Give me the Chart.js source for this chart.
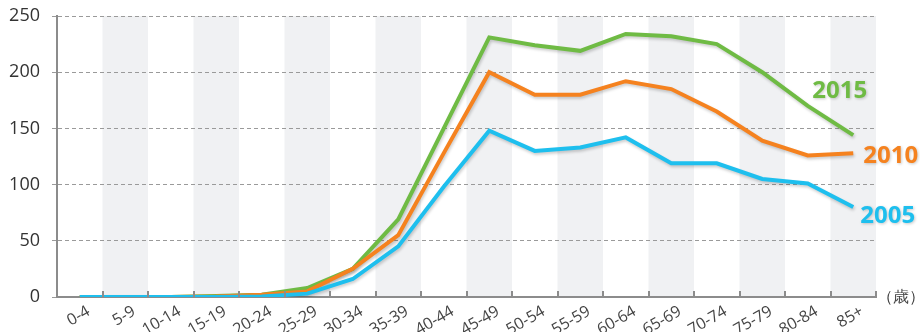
<!DOCTYPE html>
<html>
<head>
<meta charset="utf-8">
<script src="https://cdn.jsdelivr.net/npm/chart.js@4/dist/chart.umd.min.js"></script>
<style>
  html, body { margin: 0; padding: 0; background: #fff; }
  #wrap { width: 920px; height: 332px; position: relative; }
</style>
</head>
<body>
<div id="wrap"><canvas id="chart"></canvas></div>
<script>
const ageGroups = ["0-4", "5-9", "10-14", "15-19", "20-24", "25-29", "30-34", "35-39", "40-44",
  "45-49", "50-54", "55-59", "60-64", "65-69", "70-74", "75-79", "80-84", "85+"];
const years = ["2005", "2010", "2015"];
const values2005 = [0, 0, 0, 0, 0.5, 3, 16, 45, 98, 148, 130, 133, 142, 119, 119, 105, 101, 80];
const values2010 = [0, 0, 0, 0.5, 2, 5, 25, 55, 128, 200, 180, 180, 192, 185, 165, 139, 126, 128];
const values2015 = [0, 0, 0, 1, 2, 8, 25, 69, 150, 231, 224, 219, 234, 232, 225, 200, 170, 144];
const yTicks = [0, 50, 100, 150, 200, 250];
const unitLabel = "（歳）";

const colors = { "2005": "#1ebfee", "2010": "#f5821f", "2015": "#6fbb44" };
const FONT = "'Open Sans', 'Noto Sans', sans-serif";

// grey bands on every other age group, plus the little upward ticks on the x axis
const bandsPlugin = {
  id: "bands",
  beforeDraw(chart) {
    const { ctx, chartArea, scales } = chart;
    const x = scales.x;
    const half = (x.getPixelForValue(1) - x.getPixelForValue(0)) / 2;
    ctx.save();
    ctx.fillStyle = "#f0f1f3";
    for (let i = 1; i < ageGroups.length; i += 2) {
      const cx = x.getPixelForValue(i);
      ctx.fillRect(cx - half, chartArea.top, half * 2, chartArea.bottom - chartArea.top);
    }
    ctx.restore();
  },
  afterDraw(chart) {
    const { ctx, chartArea, scales } = chart;
    const x = scales.x;
    const half = (x.getPixelForValue(1) - x.getPixelForValue(0)) / 2;
    ctx.save();
    ctx.strokeStyle = "#8c8c8c";
    ctx.lineWidth = 2;
    for (let i = 0; i < ageGroups.length; i++) {
      const bx = Math.round(x.getPixelForValue(i) + half);
      ctx.beginPath();
      ctx.moveTo(bx, chartArea.bottom);
      ctx.lineTo(bx, chartArea.bottom - 6);
      ctx.stroke();
    }
    // unit label
    ctx.fillStyle = "#444";
    ctx.font = "16px " + FONT;
    ctx.textBaseline = "middle";
    ctx.textAlign = "left";
    ctx.fillText(unitLabel, chartArea.right + 1, chartArea.bottom);
    ctx.restore();
  }
};

// year labels next to the end of each line
const yearLabelPlugin = {
  id: "yearLabels",
  afterDatasetsDraw(chart) {
    const { ctx } = chart;
    const offsets = { "2015": [-41, -44], "2010": [10, 3], "2005": [7, 9] };
    ctx.save();
    ctx.font = "bold 24px " + FONT;
    ctx.textBaseline = "middle";
    ctx.textAlign = "left";
    ctx.shadowColor = "rgba(0,0,0,0.22)";
    ctx.shadowBlur = 3;
    ctx.shadowOffsetX = 1;
    ctx.shadowOffsetY = 1;
    chart.data.datasets.forEach((ds, i) => {
      const meta = chart.getDatasetMeta(i);
      const last = meta.data[meta.data.length - 1];
      const off = offsets[ds.label];
      ctx.fillStyle = colors[ds.label];
      ctx.fillText(ds.label, last.x + off[0], last.y + off[1]);
    });
    ctx.restore();
  }
};

const shadowPlugin = {
  id: "lineShadow",
  beforeDatasetsDraw(chart) {
    const ctx = chart.ctx;
    ctx.save();
    ctx.shadowColor = "rgba(0,0,0,0.2)";
    ctx.shadowBlur = 3;
    ctx.shadowOffsetX = 1;
    ctx.shadowOffsetY = 2;
  },
  afterDatasetsDraw(chart) {
    chart.ctx.restore();
  }
};

function makeDataset(year, data) {
  return {
    label: year,
    data: data,
    borderColor: colors[year],
    backgroundColor: colors[year],
    borderWidth: 4,
    pointRadius: 0,
    tension: 0,
    fill: false,
  };
}

new Chart(document.getElementById("chart"), {
  type: "line",
  data: {
    labels: ageGroups,
    datasets: [
      makeDataset(years[0], values2005),
      makeDataset(years[1], values2010),
      makeDataset(years[2], values2015),
    ],
  },
  options: {
    responsive: true,
    maintainAspectRatio: false,
    animation: false,
    layout: { padding: { top: 16, right: 44, left: 0, bottom: 0 } },
    plugins: {
      legend: { display: false },
      tooltip: { enabled: false },
    },
    scales: {
      x: {
        offset: true,
        grid: { display: false, drawTicks: false },
        border: { display: true, color: "#8c8c8c", width: 2 },
        ticks: {
          color: "#444",
          font: { family: FONT, size: 16 },
          minRotation: 30,
          maxRotation: 30,
          labelOffset: 9,
          padding: 5,
        },
        afterFit(scale) {
          scale.height = 35;
          scale.paddingLeft = 0;
          scale.paddingRight = 0;
        },
      },
      y: {
        min: 0,
        max: 250,
        afterBuildTicks(scale) { scale.ticks = yTicks.map((v) => ({ value: v })); },
        grid: {
          color: "#9a9a9a",
          lineWidth: 1,
          tickLength: 5,
          tickColor: "#9a9a9a",
          tickBorderDash: [4, 3],
        },
        border: { display: true, color: "#8c8c8c", width: 2, dash: [4, 3] },
        ticks: {
          color: "#333",
          font: { family: FONT, size: 18 },
          padding: 12,
        },
        afterFit(scale) {
          scale.width = 57;
          scale.paddingTop = 0;
          scale.paddingBottom = 0;
        },
      },
    },
  },
  plugins: [bandsPlugin, shadowPlugin, yearLabelPlugin],
});
</script>
</body>
</html>
